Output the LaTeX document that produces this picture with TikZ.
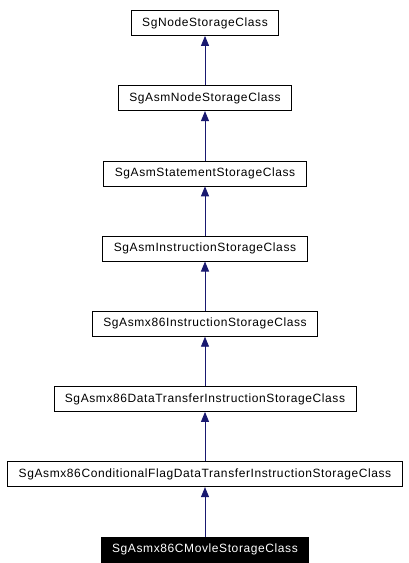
\documentclass[tikz,border=0pt]{standalone}
\usepackage{fontspec}
\setmainfont[LetterSpace=5]{Liberation Sans}
\usetikzlibrary{positioning, arrows.meta}
\definecolor{navy}{HTML}{191970}

\begin{document}
\begin{tikzpicture}[
  x=1pt, y=1pt,
  font=\fontsize{12}{14}\selectfont,
  >={Triangle[length=10pt, width=8pt]},
  cls/.style={draw=black, fill=white, minimum height=25pt, inner xsep=11pt, inner ysep=0pt, line width=0.8pt},
  cur/.style={cls, fill=black, text=white},
  arr/.style={->, draw=navy, fill=navy, line width=0.9pt},
]
\useasboundingbox (0,0) rectangle (408,-563);

% ---- inheritance chain, base class at the top ----
\node[cls] (sgnode) at (205,-23) {SgNodeStorageClass};
\node[cls, below=49.4pt of sgnode] (asmnode) {SgAsmNodeStorageClass};
\node[cls, below=49.4pt of asmnode] (stmt) {SgAsmStatementStorageClass};
\node[cls, below=49.4pt of stmt] (instr) {SgAsmInstructionStorageClass};
\node[cls, below=49.4pt of instr] (xinstr) {SgAsmx86InstructionStorageClass};
\node[cls, below=49.4pt of xinstr] (xfer) {SgAsmx86DataTransferInstructionStorageClass};
\node[cls, below=49.4pt of xfer] (cflag) {SgAsmx86ConditionalFlagDataTransferInstructionStorageClass};
\node[cur, below=49.4pt of cflag] (cmovle) {SgAsmx86CMovleStorageClass};

% ---- derived -> base ----
\draw[arr] (asmnode) -- (sgnode);
\draw[arr] (stmt) -- (asmnode);
\draw[arr] (instr) -- (stmt);
\draw[arr] (xinstr) -- (instr);
\draw[arr] (xfer) -- (xinstr);
\draw[arr] (cflag) -- (xfer);
\draw[arr] (cmovle) -- (cflag);

\end{tikzpicture}
\end{document}
